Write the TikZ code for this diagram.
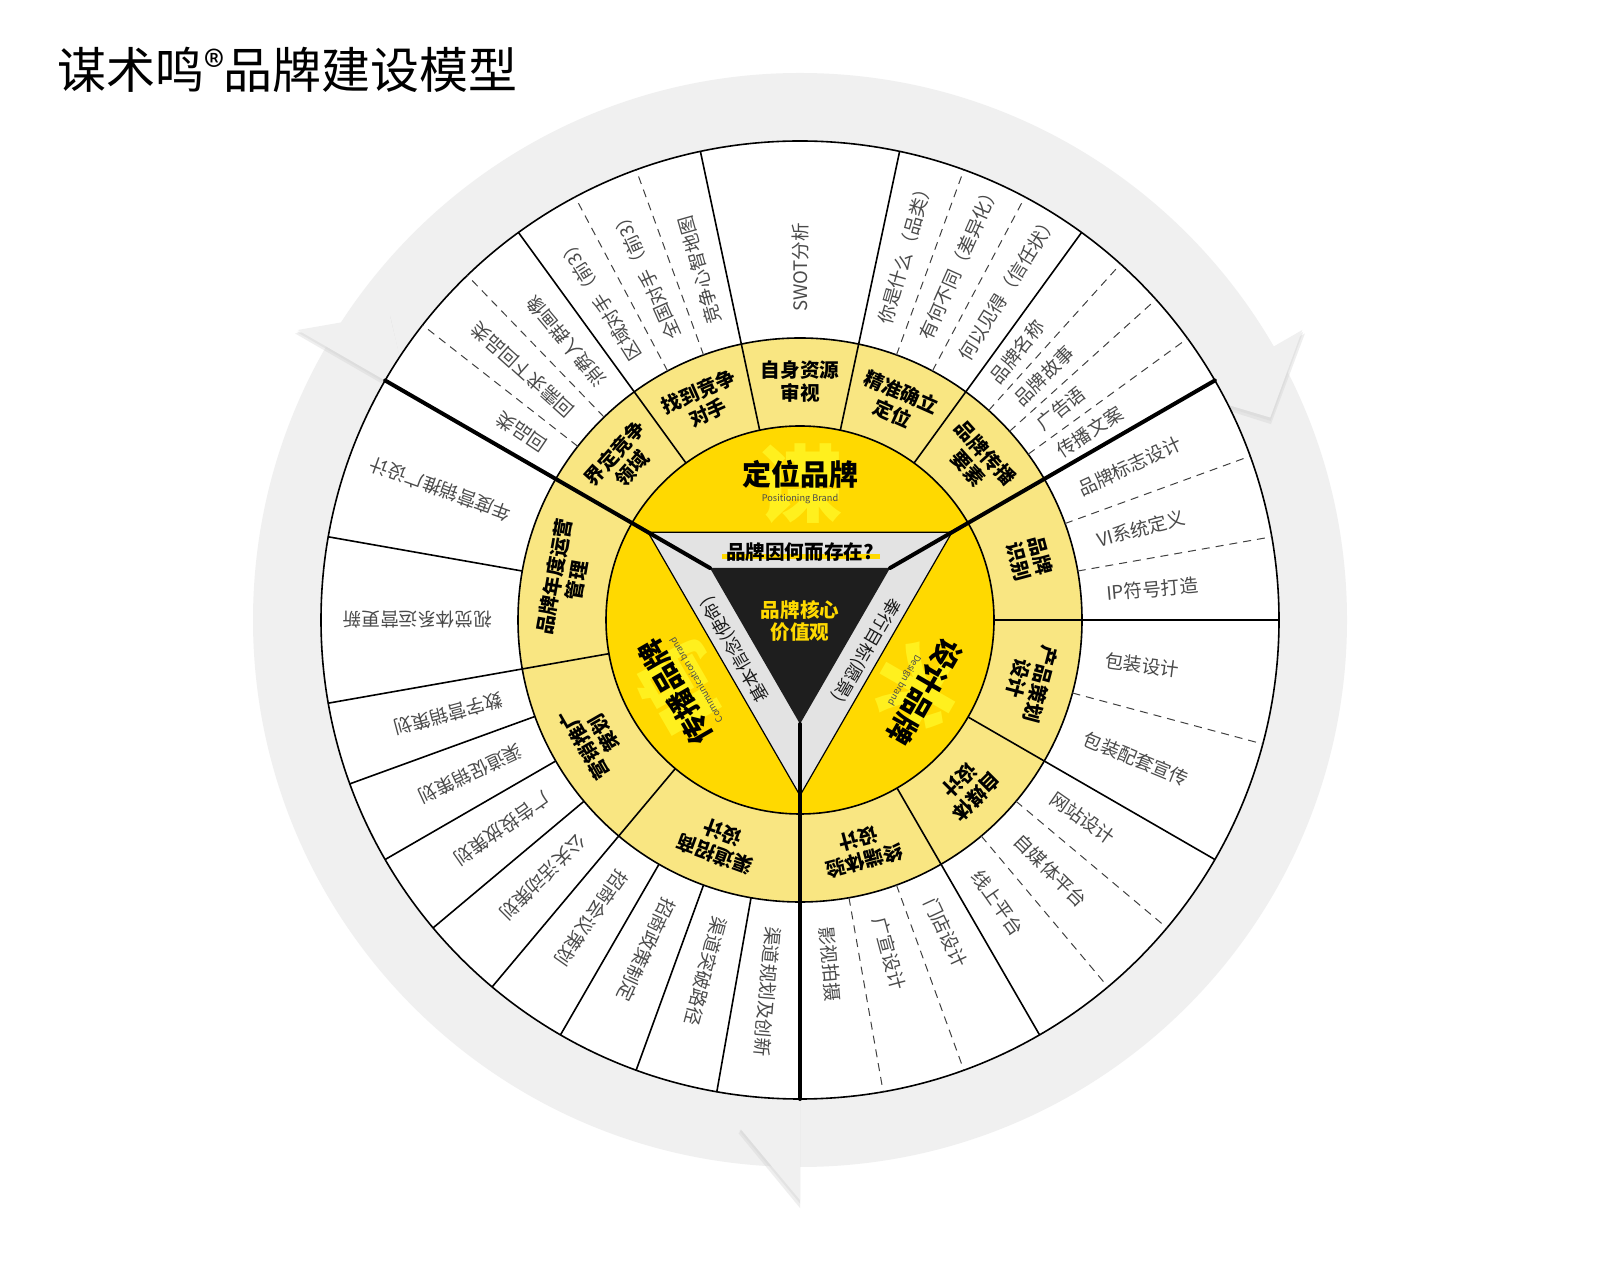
\documentclass[tikz,border=0pt]{standalone}
\usepackage{fontspec}
\setmainfont{Noto Sans CJK SC}
\usetikzlibrary{calc}
\definecolor{ybright}{HTML}{FFD900}
\definecolor{ywater}{HTML}{FFF01E}
\definecolor{ypale}{HTML}{F9E682}
\definecolor{ringgray}{HTML}{F0F0F0}
\definecolor{shadowgray}{HTML}{D0D0D0}
\definecolor{bandgray}{HTML}{E3E3E3}
\definecolor{coreblack}{HTML}{1E1E1E}
\definecolor{itemgray}{HTML}{4A4A4A}
\begin{document}
\begin{tikzpicture}[x=0.5pt,y=0.5pt,
  every node/.style={inner sep=0pt,outer sep=0pt},
  thinline/.style={line width=0.8pt,draw=black},
  dashline/.style={line width=0.5pt,draw=black!75,dash pattern=on 4pt off 3pt},
  boldline/.style={line width=2pt,draw=black},
  itemtxt/.style={font=\fontsize{9.3}{9.3}\selectfont,text=itemgray,anchor=west},
  midtxt/.style={font=\bfseries\fontsize{9.8}{11.5}\selectfont,align=center},
  bigtxt/.style={font=\bfseries\fontsize{14.5}{14.5}\selectfont},
  subtxt/.style={font=\fontsize{4.6}{4.6}\selectfont,text=black!70},
  watertxt/.style={font=\bfseries\fontsize{42}{42}\selectfont,text=ywater},
  bandtxt/.style={font=\fontsize{8.8}{8.8}\selectfont,text=black!90},
  headshape/.style={fill=ringgray}
]
\useasboundingbox (0,0) rectangle (1600,1280);
\fill[white] (0,0) rectangle (1600,1280);

% title
\node[anchor=west,font=\fontsize{24.5}{24.5}\selectfont] (title) at (57,1210)
  {谋术鸣\raisebox{0.12em}{\fontsize{21}{21}\selectfont ®}品牌建设模型};

\begin{scope}[shift={(800,660)}]
  % grey cycle ring
  \fill[ringgray,even odd rule] (0,0) circle[radius=547] (0,0) circle[radius=470];
  \foreach \b [count=\k] in {150,30,270}{
    \fill[shadowgray,opacity=0.35] ($(\b:452)+(0,-5)$) -- ($(\b:583)+(0,-5)$) -- ($(\b-6.9:512)+(0,-5)$) -- cycle;
    \fill[shadowgray,opacity=0.35] ($(\b:452)+(0,-2.5)$) -- ($(\b:581)+(0,-2.5)$) -- ($(\b-6.8:512)+(0,-2.5)$) -- cycle;
    \fill[headshape] (\b:452) -- (\b:580) -- (\b-6.7:512) -- cycle;
  }
  % wheel discs
  \draw[thinline,fill=white] (0,0) circle[radius=479];
  \draw[thinline,fill=ypale] (0,0) circle[radius=282];
  \draw[thinline,fill=ybright] (0,0) circle[radius=194];

  % watermarks
  \node[watertxt] (wm1) at (90:136) {谋};
  \node[watertxt,rotate=-120] (wm2) at (-30:136) {术};
  \node[watertxt,rotate=120] (wm3) at (210:136) {鸣};

  % radial dividers through both rings
  \foreach \a in {126,102,78,54,0,-30,-60,190,230}
    \draw[thinline] (\a:194) -- (\a:479);
  % dividers in the outer ring only
  \foreach \a in {170,200,210,220,240,250,260}
    \draw[thinline] (\a:282) -- (\a:479);
  % dashed sub-dividers
  \foreach \a in {142,134,118,110,70,62,48,42,36,20,10,-15,-40,-50,-70,-80}
    \draw[dashline] (\a:282) -- (\a:479);

  % triangles
  \draw[line width=0.6pt,fill=bandgray] (150:175.5) -- (30:175.5) -- (270:175.5) -- cycle;
  \fill[coreblack] (150:104) -- (30:104) -- (270:104) -- cycle;
  % bold lines
  \foreach \a in {150,30,270}
    \draw[boldline,line cap=round] (\a:104) -- (\a:479);

  % outer items
  \foreach \a/\t [count=\k] in {
    146/回品类, 138/回需求下回品类, 130/消费人群画像,
    122/区域对手（前3）, 114/全国对手（前3）, 106/竞争心智地图,
    90/SWOT分析,
    74/你是什么（品类）, 66/有何不同（差异化）, 58/何以见得（信任状）,
    51/品牌名称, 45/品牌故事, 39/广告语, 33/传播文案,
    25/品牌标志设计, 15/VI系统定义, 5/IP符号打造,
    -7.5/包装设计, -22.5/包装配套宣传,
    -35/网站设计, -45/自媒体平台, -55/线上平台,
    -65/门店设计, -75/广宣设计, -85/影视拍摄,
    160/年度营销推广设计, 180/视觉体系运营更新,
    195/数字营销策划, 205/渠道促销策划, 215/广告投放策划, 225/公关活动策划,
    235/招商会议策划, 245/招商政策制定, 255/渠道突破路径, 265/渠道规划及创新}
    \node[itemtxt,rotate=\a] (item\k) at (\a:308) {\t};

  % middle ring labels
  \foreach \a/\t [count=\k] in {
    138/{界定竞争\\领域}, 114/{找到竞争\\对手}, 90/{自身资源\\审视},
    66/{精准确立\\定位}, 42/{品牌传播\\要素},
    15/{品牌\\识别}, -15/{产品策划\\设计}, -45/{自媒体\\设计}, -75/{终端体验\\设计},
    170/{品牌年度运营\\管理}, 210/{营销推广\\策划}, 250/{渠道招商\\设计}}
    \node[midtxt,rotate=\a-90] (mid\k) at (\a:238) {\t};

  % inner sector labels
  \node[bigtxt] (pos) at (90:146) {定位品牌};
  \node[subtxt] (possub) at (90:121) {Positioning Brand};
  \node[bigtxt,rotate=-120] (des) at (-30:144) {设计品牌};
  \node[subtxt,rotate=-120] (dessub) at (-30:120) {Design brand};
  \node[bigtxt,rotate=120] (com) at (210:144) {传播品牌};
  \node[subtxt,rotate=120] (comsub) at (210:120) {Communication brand};

  % band texts
  \fill[ybright] (-78,61) rectangle (80,66);
  \node[font=\bfseries\fontsize{9.8}{9.8}\selectfont] (why) at (0,68) {品牌因何而存在?};
  \node[bandtxt,rotate=-120] (vision) at ($(-30:72)+(60:7)$) {奉行目标(愿景)};
  \node[bandtxt,rotate=120] (mission) at ($(210:71)+(120:7)$) {基本信念(使命)};
  \node[font=\bfseries\fontsize{9.8}{11}\selectfont,text=ybright,align=center] (core) at (0,-1) {品牌核心\\价值观};
\end{scope}
\end{tikzpicture}
\end{document}
